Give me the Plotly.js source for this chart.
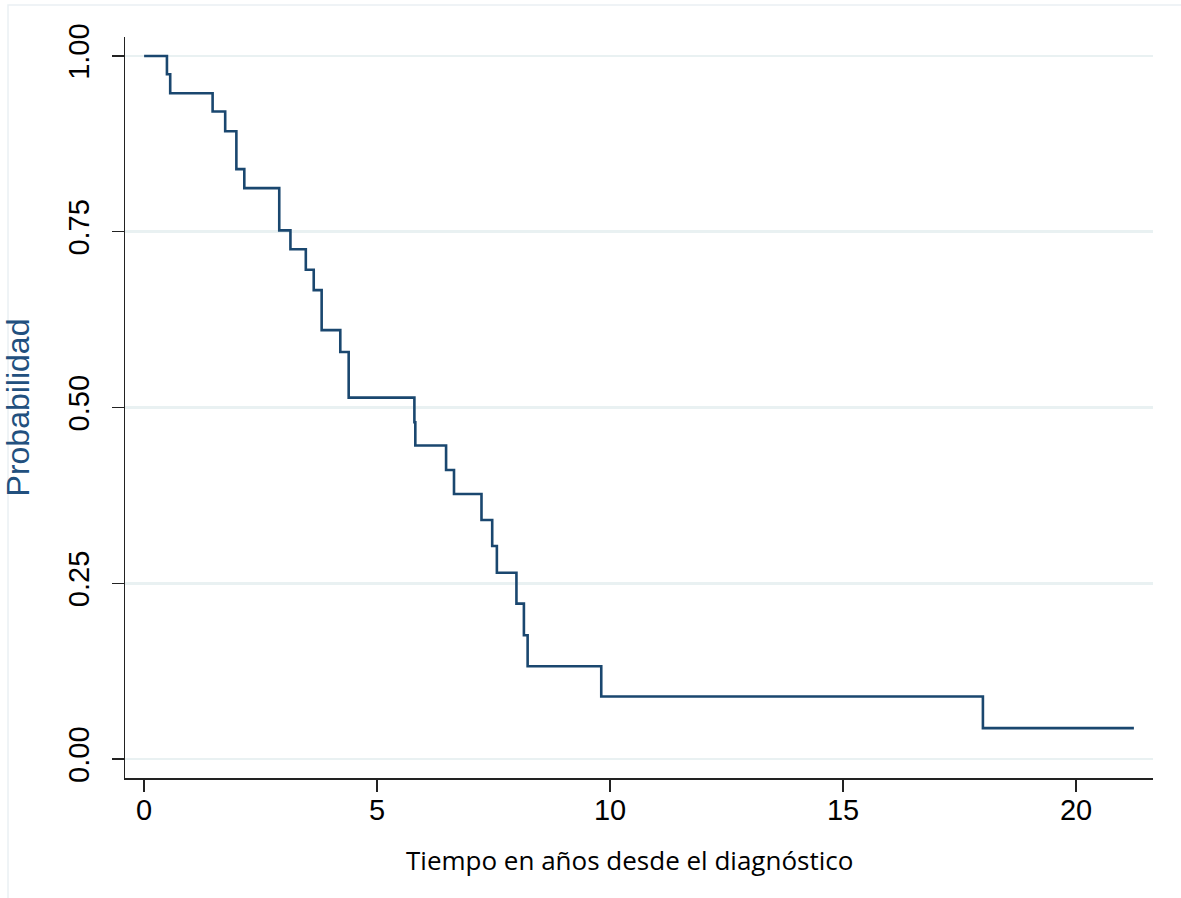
<!DOCTYPE html>
<html>
<head>
<meta charset="utf-8">
<script src="https://cdn.plot.ly/plotly-3.0.1.min.js"></script>
<style>
  html, body { margin: 0; padding: 0; background: #ffffff; }
  #chart { width: 1181px; height: 898px; }
</style>
</head>
<body>
<div id="chart"></div>
<script>
// Kaplan-Meier step data (time in years, survival probability)
const times = [0, 0.49, 0.56, 1.47, 1.74, 1.98, 2.15, 2.90, 3.14, 3.47, 3.64, 3.81, 4.21, 4.39, 5.80, 5.82, 6.48, 6.65, 7.24, 7.47, 7.57, 7.99, 8.15, 8.23, 9.81, 18.0, 21.24];
const survival = [1.000, 0.974, 0.947, 0.921, 0.893, 0.839, 0.812, 0.752, 0.725, 0.696, 0.667, 0.610, 0.579, 0.514, 0.479, 0.446, 0.411, 0.377, 0.340, 0.303, 0.265, 0.221, 0.176, 0.132, 0.089, 0.044, 0.044];

const xTickVals = [0, 5, 10, 15, 20];
const xTickText = ["0", "5", "10", "15", "20"];
const yTickVals = [0, 0.25, 0.5, 0.75, 1];
const yTickText = ["0.00", "0.25", "0.50", "0.75", "1.00"];

const xTitle = "Tiempo en años desde el diagnóstico";
const yTitle = "Probabilidad";

const trace = {
  x: times,
  y: survival,
  type: "scatter",
  mode: "lines",
  line: { shape: "hv", color: "#1a476f", width: 2.6 },
  hoverinfo: "x+y",
  showlegend: false
};

const tickFont = { family: "'Liberation Sans', Arial, sans-serif", size: 29, color: "#000000" };

const layout = {
  width: 1181,
  height: 898,
  paper_bgcolor: "#ffffff",
  plot_bgcolor: "#ffffff",
  margin: { l: 125, r: 28, t: 37, b: 120, pad: 0 },
  showlegend: false,
  xaxis: {
    range: [-0.41, 21.65],
    tickvals: xTickVals,
    ticktext: xTickText,
    ticks: "outside",
    ticklen: 12,
    tickwidth: 1.5,
    tickcolor: "#222222",
    showline: true,
    linecolor: "#222222",
    linewidth: 1.5,
    showgrid: false,
    zeroline: false,
    tickfont: tickFont,
    ticklabelstandoff: -6,
    automargin: false
  },
  yaxis: {
    range: [-0.027, 1.027],
    tickvals: yTickVals,
    ticktext: yTickText,
    tickangle: -90,
    ticks: "outside",
    ticklen: 12,
    tickwidth: 1.5,
    tickcolor: "#222222",
    showline: true,
    linecolor: "#222222",
    linewidth: 1.5,
    showgrid: true,
    gridcolor: "#e9f1f2",
    gridwidth: 2.5,
    zeroline: false,
    tickfont: tickFont,
    ticklabelstandoff: 11,
    title: {
      text: yTitle,
      font: { family: "'Liberation Sans', Arial, sans-serif", size: 32, color: "#22507e" },
      standoff: 33
    },
    automargin: false
  },
  annotations: [
    {
      text: xTitle,
      xref: "paper", yref: "paper",
      x: 0.4903, y: -0.1107,
      xanchor: "center", yanchor: "middle",
      showarrow: false,
      font: { family: "'Open Sans', 'Noto Sans', sans-serif", size: 26, color: "#000000" }
    }
  ],
  shapes: [
    {
      type: "rect",
      xref: "paper", yref: "paper",
      x0: -0.1138, x1: 1.05,
      y0: -0.2, y1: 1.0432,
      line: { color: "#eaf0f3", width: 1.5 },
      fillcolor: "rgba(0,0,0,0)",
      layer: "below"
    }
  ]
};

Plotly.newPlot("chart", [trace], layout, { displayModeBar: false, staticPlot: true });
</script>
</body>
</html>
